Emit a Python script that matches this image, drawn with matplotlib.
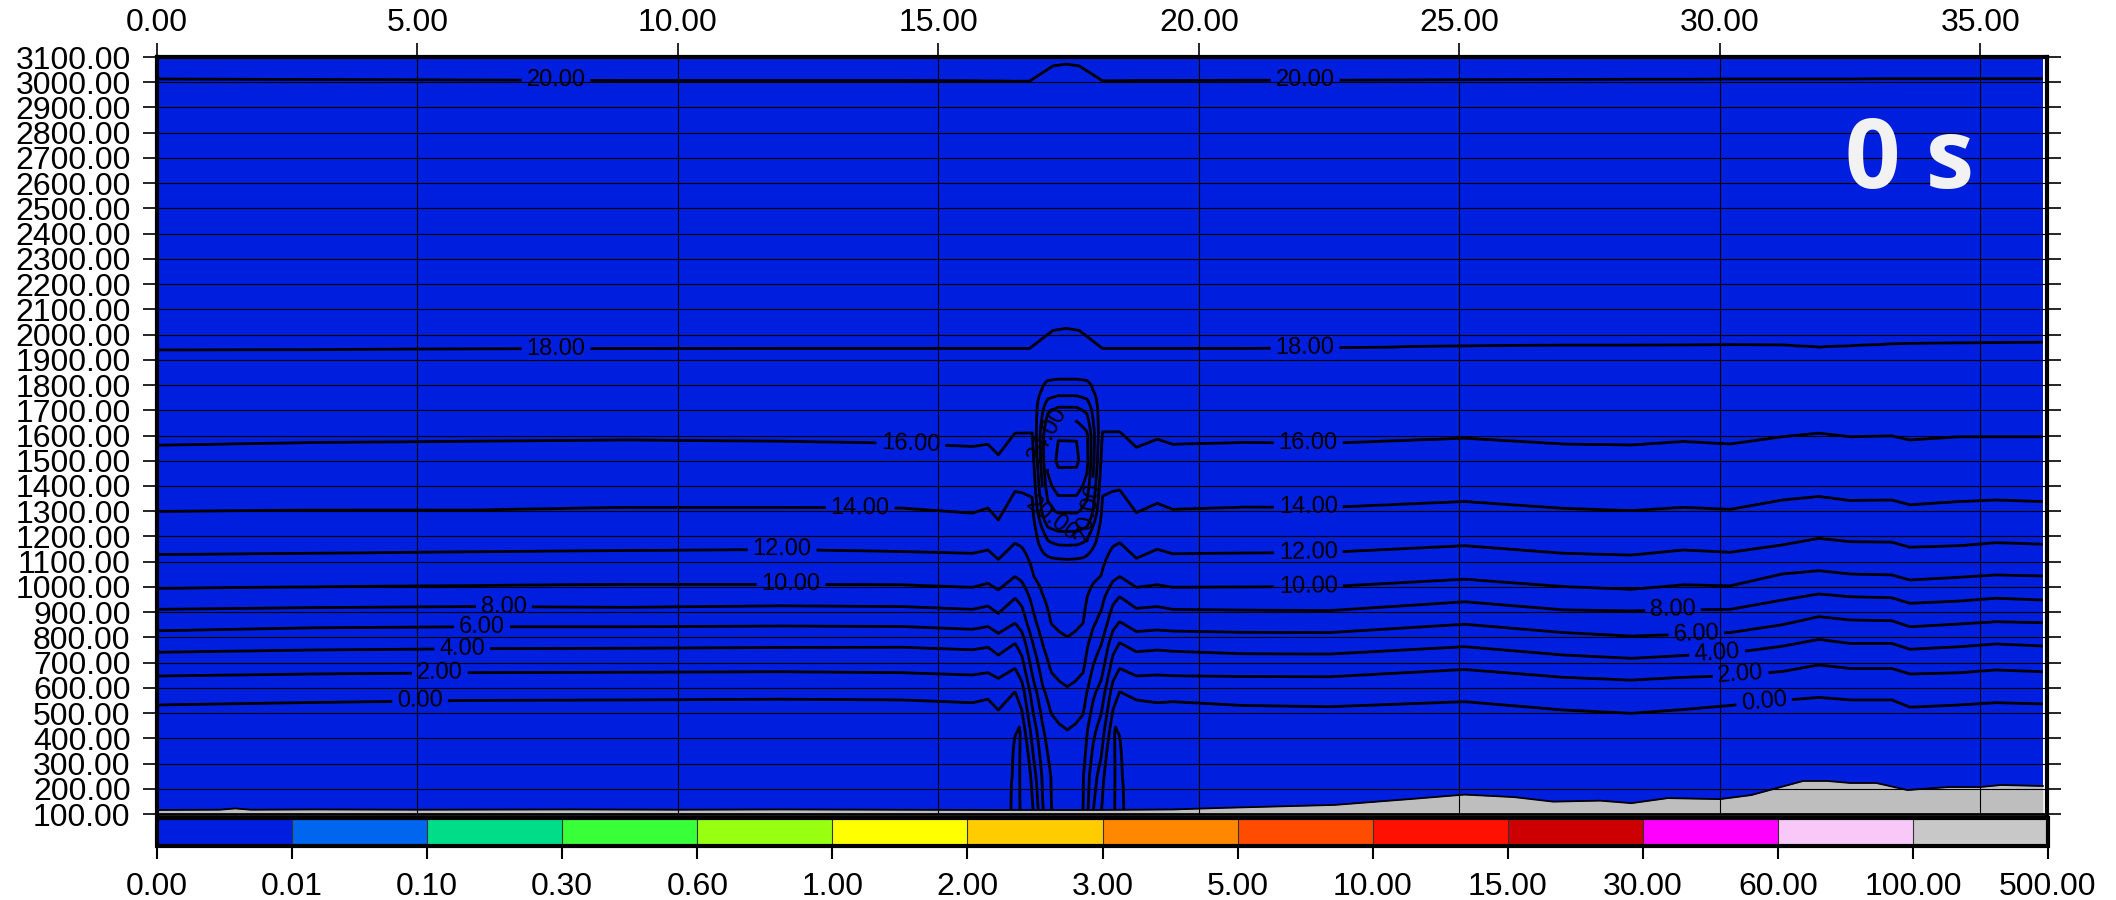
import numpy as np
import matplotlib.pyplot as plt
from matplotlib.colors import ListedColormap, BoundaryNorm
from matplotlib.cm import ScalarMappable
from matplotlib.ticker import FormatStrFormatter

plt.rcParams['font.family'] = ['Liberation Sans', 'DejaVu Sans']

# colour classes of the shaded field
class_bounds = [0.0, 0.01, 0.1, 0.3, 0.6, 1.0, 2.0, 3.0, 5.0, 10.0, 15.0, 30.0, 60.0, 100.0, 500.0]
class_colors = ['#001ede', '#0066ee', '#00dd88', '#38ff38', '#99ff11', '#ffff00', '#ffcc00',
                '#ff8800', '#ff4c00', '#ff1100', '#cc0000', '#ff00ff', '#f8c8f8', '#c8c8c8']

# shaded field: zero everywhere at 0 s
shade_x = [0.0, 36.2]
shade_z = [100.0, 3100.0]
shade_val = [[0.0]]

# terrain profile (km, m)
terrain_x = [0, 1.2, 1.5, 1.8, 3, 5, 8, 10, 12, 14, 16, 18, 19.5, 20.4, 21.5, 22.6, 24.1, 25.1, 26.05,
             26.8, 27.7, 28.3, 29.0, 30.0, 30.6, 31.1, 31.6, 32.06, 32.5, 33.0, 33.6, 34.4, 35.0, 35.4, 36.2]
terrain_h = [116, 117, 122, 117, 118, 117, 118, 117, 118, 117, 116, 116, 118, 124, 130, 136, 160, 177, 167,
             149, 153, 143, 163, 159, 175, 203, 231, 231, 223, 223, 195, 207, 207, 215, 211]

# height (m) of each contour level, read at these x columns (km)
col_x = [0, 3, 6, 9, 12, 14.3, 15.65, 15.95, 16.15, 16.47, 18.48, 18.8, 19.2, 19.5, 20.85, 22.5,
         25.1, 27.0, 28.3, 29.3, 30.2, 31.2, 31.9, 32.5, 33.3, 33.65, 34.6, 35.3, 36.2]
h00 = [532, 542, 550, 552, 555, 552, 541, 555, 512, 585, 585, 552, 541, 545, 530, 525,
       545, 512, 499, 514, 530, 550, 562, 552, 552, 523, 532, 541, 536]
h02 = [647, 655, 660, 662, 664, 660, 651, 660, 638, 677, 677, 647, 651, 648, 645, 644,
       673, 642, 631, 642, 648, 665, 691, 677, 677, 655, 660, 671, 664]
h04 = [741, 750, 755, 757, 760, 761, 751, 761, 730, 776, 779, 743, 750, 745, 735, 734,
       763, 730, 717, 728, 738, 765, 792, 776, 776, 753, 763, 774, 766]
h06 = [826, 838, 842, 842, 845, 843, 832, 843, 816, 856, 862, 823, 829, 825, 820, 819,
       852, 819, 805, 812, 819, 850, 882, 869, 866, 842, 853, 862, 858]
h08 = [911, 918, 922, 919, 925, 922, 911, 924, 895, 955, 961, 915, 922, 911, 908, 906,
       941, 909, 905, 909, 911, 948, 972, 961, 957, 935, 944, 955, 948]
h10 = [994, 1000, 1005, 1010, 1010, 1008, 998, 1014, 988, 1041, 1041, 998, 1008, 998, 1000, 1001,
       1030, 1001, 990, 1008, 1004, 1051, 1064, 1051, 1047, 1027, 1038, 1047, 1043]
h12 = [1128, 1133, 1139, 1144, 1148, 1140, 1133, 1146, 1109, 1173, 1175, 1113, 1149, 1131, 1134, 1137,
       1163, 1133, 1126, 1146, 1137, 1166, 1192, 1179, 1177, 1157, 1163, 1175, 1169]
h14 = [1299, 1304, 1304, 1315, 1315, 1312, 1292, 1312, 1265, 1378, 1384, 1294, 1331, 1307, 1316, 1315,
       1338, 1311, 1302, 1315, 1307, 1344, 1358, 1342, 1344, 1325, 1338, 1344, 1338]
h16 = [1561, 1572, 1577, 1582, 1577, 1569, 1556, 1565, 1523, 1609, 1615, 1553, 1585, 1565, 1572, 1569,
       1589, 1566, 1562, 1576, 1566, 1595, 1609, 1595, 1598, 1582, 1595, 1595, 1595]
h18 = [1938, 1940, 1942, 1944, 1945, 1945, 1945, 1945, 1945, 1945, 1945, 1945, 1945, 1945, 1945, 1946,
       1955, 1957, 1957, 1958, 1960, 1958, 1950, 1955, 1962, 1965, 1966, 1967, 1969]
h20 = [3013, 3011, 3009, 3007, 3007, 3007, 3006, 3005, 3005, 3004, 3006, 3007, 3007, 3007, 3008, 3008,
       3010, 3011, 3012, 3012, 3013, 3013, 3013, 3013, 3014, 3014, 3014, 3014, 3014]
level_vals = [0, 2, 4, 6, 8, 10, 12, 14, 16, 18, 20]
bottom_val = -8.0    # value at 100 m
top_val = 20.2       # value at 3100 m

# plume anomaly, built from column weights and vertical profiles
stem_x = [16.47, 16.6, 16.72, 16.82, 16.92, 17.01, 17.17, 17.32, 17.475, 17.63, 17.78, 17.87, 17.97,
          18.13, 18.23, 18.35, 18.48]
stem_w = [0, 0.12, 0.35, 0.533, 0.667, 0.8, 0.933, 0.975, 1.0, 0.975, 0.933, 0.8, 0.667, 0.533, 0.35, 0.12, 0]
stem_y = [100, 250, 433, 605, 803, 1000, 1226, 1400, 1600, 1800]
stem_amp = [15, 12.5, 10.5, 9.57, 7.38, 4.2, 1.0, 0.3, 0, 0]

core_x = [16.8, 16.95, 17.1, 17.3, 17.475, 17.65, 17.85, 18.0, 18.15]
core_w = [0, 0.4, 0.85, 1, 1, 1, 0.85, 0.4, 0]
core_y = [1100, 1200, 1300, 1400, 1500, 1600, 1700, 1780, 1850]
core_amp = [0, 3.5, 8.5, 10.5, 11.2, 10, 6, 2, 0]

cap_x = [16.75, 16.95, 17.2, 17.45, 17.7, 17.95, 18.15]
cap_w = [0, 0.4, 0.9, 1, 0.9, 0.4, 0]
cap_y = [1800, 1900, 2000, 2800, 3000, 3100]
cap_amp = [0, -0.15, -0.15, -0.15, -0.14, -0.14]

lens_x = [16.33, 16.38, 16.47, 16.56, 16.61, 18.34, 18.39, 18.48, 18.57, 18.62]
lens_w = [0, 0.85, 1, 0.85, 0, 0, 0.85, 1, 0.85, 0]
lens_y = [100, 250, 413, 500]
lens_amp = [9.5, 6, 2.8, 0]

contour_levels = list(range(0, 27, 2))

# label spots (km) for the two rows of labels, per level 0..20
left_label_x = [5.05, 5.43, 5.86, 6.24, 6.66, 12.17, 12.0, 13.5, 14.47, 7.66, 7.66]
right_label_x = [30.85, 30.4, 29.95, 29.55, 29.1, 22.1, 22.1, 22.1, 22.1, 22.04, 22.04]
plume_label_pts = [(17.2, 1600), (17.15, 1260), (17.85, 1300)]

# ---- build field
xg = np.linspace(0, 36.2, 1449)
yg = np.linspace(100, 3100, 601)
level_h = [h00, h02, h04, h06, h08, h10, h12, h14, h16, h18, h20]
hx = np.array([np.interp(xg, col_x, h) for h in level_h])
vals = np.array([bottom_val] + level_vals + [top_val], dtype=float)
field = np.empty((len(yg), len(xg)))
for i in range(len(xg)):
    hz = np.concatenate([[100.0], hx[:, i], [3100.0]])
    field[:, i] = np.interp(yg, hz, vals)
for px, pw, py, pa in [(stem_x, stem_w, stem_y, stem_amp), (core_x, core_w, core_y, core_amp),
                       (cap_x, cap_w, cap_y, cap_amp), (lens_x, lens_w, lens_y, lens_amp)]:
    field += np.outer(np.interp(yg, py, pa), np.interp(xg, px, pw))

cmap = ListedColormap(class_colors)
norm = BoundaryNorm(class_bounds, cmap.N)

fig = plt.figure(figsize=(21.16, 9), dpi=100)
ax = fig.add_axes([157 / 2116, 1 - 814 / 900, 1890 / 2116, 757 / 900])

ax.pcolormesh(shade_x, shade_z, shade_val, cmap=cmap, norm=norm, zorder=0)
cs = ax.contour(xg, yg, field, levels=contour_levels, colors='k', linewidths=2.0, zorder=0.5)
ax.fill_between(terrain_x, 100, terrain_h, color='#bebebe', zorder=1, lw=0)
ax.plot(terrain_x, terrain_h, color='k', lw=1.3, zorder=1.1)

label_pts = []
for hl, xl, xr in zip(level_h, left_label_x, right_label_x):
    label_pts.append((xl, np.interp(xl, col_x, hl)))
    label_pts.append((xr, np.interp(xr, col_x, hl)))
label_pts += plume_label_pts
ax.clabel(cs, manual=label_pts, inline=True, fmt='%.2f', fontsize=17)

ax.set_xlim(0, 36.28)
ax.set_ylim(100, 3100)
ax.set_xticks(np.arange(0, 36, 5))
ax.set_yticks(np.arange(100, 3101, 100))
ax.xaxis.set_major_formatter(FormatStrFormatter('%.2f'))
ax.yaxis.set_major_formatter(FormatStrFormatter('%.2f'))
ax.tick_params(axis='x', top=True, labeltop=True, bottom=False, labelbottom=False,
               direction='out', length=10, width=1.2, labelsize=23, pad=4)
ax.tick_params(axis='y', left=True, right=True, labelright=False,
               direction='out', length=10, width=1.2, labelsize=23, pad=9)
ax.set_axisbelow(False)
ax.grid(True, color='k', lw=0.8)
for side in ['top', 'left', 'right']:
    ax.spines[side].set_linewidth(3)
ax.spines['bottom'].set_linewidth(2)

ax.text(0.9275, 0.86, '0 s', transform=ax.transAxes, ha='center', va='center',
        fontsize=70, fontweight='bold', color='#f2f2f2', family=['Open Sans', 'DejaVu Sans'])

cax = fig.add_axes([157 / 2116, 1 - 846 / 900, 1891 / 2116, 28 / 900])
cb = fig.colorbar(ScalarMappable(norm=norm, cmap=cmap), cax=cax, orientation='horizontal',
                  spacing='uniform', ticks=class_bounds, drawedges=True)
cb.outline.set_linewidth(3)
cb.dividers.set_color('#333333')
cb.dividers.set_linewidth(0.8)
cb.ax.xaxis.set_major_formatter(FormatStrFormatter('%.2f'))
cb.ax.tick_params(direction='out', length=9, width=1.5, labelsize=23, pad=10)

fig.savefig('out.png', dpi=100)
